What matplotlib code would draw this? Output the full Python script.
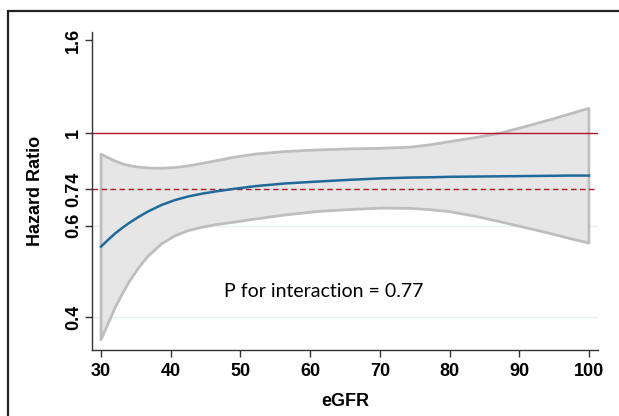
import matplotlib
matplotlib.use('Agg')
import matplotlib.pyplot as plt
from matplotlib.patches import Rectangle

# eGFR grid and hazard ratio curves
egfr = [30.0, 31.05, 32.0, 32.96, 33.91, 35.35, 36.78, 38.7, 40.6, 42.51, 44.43, 46.33, 49.0,
        52.3, 56.5, 60.9, 65.6, 70.4, 74.3, 77.0, 80.0, 83.6, 87.2, 90.7, 94.3, 97.1, 100.0]
hr = [0.569, 0.589, 0.607, 0.623, 0.638, 0.659, 0.678, 0.700, 0.717, 0.730, 0.740, 0.748, 0.758,
      0.769, 0.779, 0.786, 0.793, 0.799, 0.802, 0.803, 0.805, 0.806, 0.807, 0.808, 0.809, 0.810, 0.810]
upper = [0.901, 0.885, 0.871, 0.860, 0.852, 0.845, 0.841, 0.840, 0.843, 0.850, 0.860, 0.871, 0.887,
         0.902, 0.913, 0.920, 0.925, 0.928, 0.933, 0.943, 0.959, 0.978, 1.000, 1.032, 1.068, 1.099, 1.132]
lower = [0.358, 0.389, 0.419, 0.447, 0.474, 0.511, 0.543, 0.577, 0.600, 0.616, 0.626, 0.634, 0.642,
         0.653, 0.666, 0.677, 0.684, 0.689, 0.688, 0.684, 0.677, 0.662, 0.644, 0.626, 0.608, 0.593, 0.579]

x_ticks = [30, 40, 50, 60, 70, 80, 90, 100]
y_ticks = [0.4, 0.631, 0.757, 1.0, 1.588]
y_labels = ['0.4', '0.6', '0.74', '1', '1.6']
ref_line = 1.0
pooled_hr = 0.757

plt.rcParams['font.family'] = ['Liberation Sans', 'DejaVu Sans']

fig = plt.figure(figsize=(6.19, 4.16), dpi=100)
ax = fig.add_axes([92 / 619, 1 - 350 / 416, (598 - 92) / 619, (350 - 32) / 416])

# outer frame (only top and left edges visible)
fig.patches.append(Rectangle((8 / 619, -0.2), 1.2, 1.2 - 11 / 416, transform=fig.transFigure,
                             fill=False, edgecolor='#222222', linewidth=1.6))

ax.set_yscale('log')
ax.set_xlim(28.7, 101.3)
ax.set_ylim(0.340, 1.655)

# faint grid lines
for v in [0.4, 0.631]:
    ax.axhline(v, color='#e8f1f1', linewidth=1, zorder=0)

# confidence band
xs = egfr + egfr[::-1]
ys = upper + lower[::-1]
ax.fill(xs, ys, facecolor='#e6e6e6', edgecolor='#bebebe', linewidth=2,
        joinstyle='round', zorder=1)

ax.axhline(ref_line, color='#b2182b', linewidth=1, zorder=2)
ax.axhline(pooled_hr, color='#b2182b', linewidth=1, linestyle=(0, (4, 2.5)), zorder=2)

ax.plot(egfr, hr, color='#1f6a9a', linewidth=1.8, solid_joinstyle='round', zorder=3)

ax.text(47.7, 0.455, 'P for interaction = 0.77', fontsize=14, family=['Lato', 'DejaVu Sans'],
        ha='left', va='center')

ax.set_xticks(x_ticks)
ax.set_xticklabels([str(t) for t in x_ticks], fontsize=13, fontweight='bold')
ax.set_yticks(y_ticks)
ax.set_yticklabels(y_labels, fontsize=13, fontweight='bold', rotation=90, va='center')
ax.minorticks_off()
ax.tick_params(axis='both', direction='out', length=5, width=1, color='#333333')
ax.tick_params(axis='y', pad=2)
ax.tick_params(axis='x', pad=4)

ax.set_xlabel('eGFR', fontsize=13, fontweight='bold', labelpad=10)
ax.set_ylabel('Hazard Ratio', fontsize=13, fontweight='bold', labelpad=15)

for side in ['top', 'right']:
    ax.spines[side].set_visible(False)
for side in ['left', 'bottom']:
    ax.spines[side].set_color('#333333')
    ax.spines[side].set_linewidth(1)

fig.savefig('out.png', dpi=100)
